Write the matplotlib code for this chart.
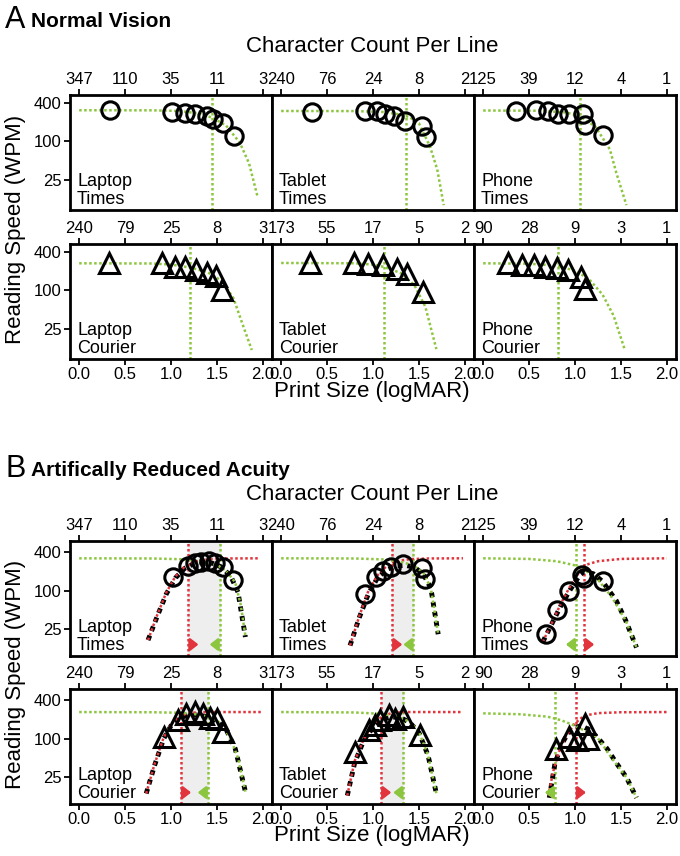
import matplotlib
matplotlib.use("Agg")
import matplotlib.pyplot as plt
from matplotlib.ticker import NullLocator

plt.rcParams['font.family'] = ['Liberation Sans', 'DejaVu Sans']

# panel layout keys
devices = ["Laptop", "Tablet", "Phone"]
fonts = ["Times", "Courier"]
logmar_ticks = [0.0, 0.5, 1.0, 1.5, 2.0]
logmar_labels = ["0.0", "0.5", "1.0", "1.5", "2.0"]
speed_ticks = [25, 100, 400]
speed_labels = ["25", "100", "400"]

# character count per line at logMAR 0.0 .. 2.0
char_labels = {
    "Laptop Times": ["347", "110", "35", "11", "3"],
    "Tablet Times": ["240", "76", "24", "8", "2"],
    "Phone Times": ["125", "39", "12", "4", "1"],
    "Laptop Courier": ["240", "79", "25", "8", "3"],
    "Tablet Courier": ["173", "55", "17", "5", "2"],
    "Phone Courier": ["90", "28", "9", "3", "1"],
}

# ---- A: normal vision ----
normal_x = {
    "Laptop Times": [0.34, 1.01, 1.15, 1.26, 1.39, 1.46, 1.57, 1.69],
    "Tablet Times": [0.34, 0.91, 1.04, 1.13, 1.23, 1.35, 1.53, 1.58],
    "Phone Times": [0.36, 0.58, 0.71, 0.81, 0.93, 1.09, 1.11, 1.31],
    "Laptop Courier": [0.32, 0.90, 1.04, 1.15, 1.27, 1.39, 1.49, 1.56],
    "Tablet Courier": [0.31, 0.79, 0.95, 1.11, 1.26, 1.37, 1.54],
    "Phone Courier": [0.27, 0.42, 0.55, 0.67, 0.80, 0.92, 1.07, 1.11],
}
normal_y = {
    "Laptop Times": [303, 286, 276, 260, 244, 222, 193, 119],
    "Tablet Times": [282, 292, 292, 269, 250, 204, 175, 116],
    "Phone Times": [300, 311, 292, 260, 266, 260, 181, 126],
    "Laptop Courier": [263, 263, 233, 233, 207, 184, 163, 101],
    "Tablet Courier": [269, 265, 254, 242, 210, 176, 92],
    "Phone Courier": [260, 250, 242, 233, 222, 205, 160, 105],
}
normal_fit_x = {
    "Laptop Times": [0.0, 0.8, 1.1, 1.3, 1.45, 1.6, 1.75, 1.85, 1.94],
    "Tablet Times": [0.0, 0.8, 1.1, 1.3, 1.4, 1.5, 1.62, 1.70, 1.77],
    "Phone Times": [0.0, 0.6, 0.9, 1.05, 1.22, 1.38, 1.45, 1.56],
    "Laptop Courier": [0.0, 0.8, 1.0, 1.21, 1.4, 1.55, 1.68, 1.77, 1.88],
    "Tablet Courier": [0.0, 0.8, 1.0, 1.12, 1.3, 1.45, 1.57, 1.69],
    "Phone Courier": [0.0, 0.5, 0.81, 1.0, 1.15, 1.3, 1.42, 1.54],
}
normal_fit_y = {
    "Laptop Times": [303, 302, 295, 270, 232, 175, 94, 45, 14],
    "Tablet Times": [295, 294, 285, 260, 235, 190, 83, 36, 10],
    "Phone Times": [300, 298, 280, 245, 170, 74, 32, 10],
    "Laptop Courier": [262, 260, 250, 225, 190, 140, 75, 32, 11.6],
    "Tablet Courier": [265, 262, 250, 230, 185, 120, 55, 12],
    "Phone Courier": [262, 258, 240, 200, 150, 85, 40, 12],
}
normal_cps = {
    "Laptop Times": 1.45, "Tablet Times": 1.36, "Phone Times": 1.05,
    "Laptop Courier": 1.21, "Tablet Courier": 1.12, "Phone Courier": 0.81,
}

# ---- B: artificially reduced acuity ----
reduced_x = {
    "Laptop Times": [1.02, 1.19, 1.26, 1.33, 1.41, 1.48, 1.57, 1.68],
    "Tablet Times": [0.91, 1.03, 1.11, 1.20, 1.33, 1.53, 1.57],
    "Phone Times": [0.68, 0.80, 0.93, 1.08, 1.10, 1.31],
    "Laptop Courier": [0.92, 1.08, 1.16, 1.26, 1.35, 1.42, 1.50, 1.57],
    "Tablet Courier": [0.80, 0.96, 1.02, 1.08, 1.17, 1.24, 1.33, 1.51],
    "Phone Courier": [0.79, 0.93, 1.02, 1.11, 1.14],
}
reduced_y = {
    "Laptop Times": [164, 244, 269, 282, 289, 276, 236, 148],
    "Tablet Times": [88, 167, 204, 239, 260, 231, 155],
    "Phone Times": [21.5, 51, 99, 175, 157, 142],
    "Laptop Courier": [107, 195, 242, 262, 248, 215, 207, 128],
    "Tablet Courier": [62, 136, 163, 195, 233, 207, 219, 114],
    "Phone Courier": [70, 107, 95, 173, 101],
}
acuity_fit_x = {
    "Laptop Times": [0.75, 0.85, 0.95, 1.05, 1.15, 1.25, 1.4, 1.6, 1.97],
    "Tablet Times": [0.75, 0.85, 0.95, 1.05, 1.15, 1.25, 1.4, 1.6, 1.98],
    "Phone Times": [0.65, 0.75, 0.85, 0.95, 1.05, 1.12, 1.25, 1.5, 2.0],
    "Laptop Courier": [0.73, 0.82, 0.92, 1.0, 1.1, 1.2, 1.4, 1.99],
    "Tablet Courier": [0.72, 0.8, 0.9, 1.0, 1.1, 1.2, 1.35, 1.97],
    "Phone Courier": [0.71, 0.76, 0.82, 0.9, 1.0, 1.1, 1.25, 1.5, 2.0],
}
acuity_fit_y = {
    "Laptop Times": [17, 42, 95, 170, 240, 285, 310, 320, 322],
    "Tablet Times": [14, 40, 100, 175, 245, 290, 312, 320, 322],
    "Phone Times": [16, 32, 65, 120, 200, 255, 290, 315, 322],
    "Laptop Courier": [14, 40, 105, 170, 230, 255, 262, 262],
    "Tablet Courier": [13, 45, 100, 165, 225, 252, 262, 262],
    "Phone Courier": [13, 30, 60, 110, 175, 230, 252, 260, 262],
}
count_fit_x = {
    "Laptop Times": [0.0, 0.8, 1.1, 1.3, 1.5, 1.6, 1.7, 1.76, 1.81],
    "Tablet Times": [0.0, 0.8, 1.1, 1.3, 1.44, 1.55, 1.63, 1.71],
    "Phone Times": [0.0, 0.5, 0.8, 1.0, 1.1, 1.25, 1.4, 1.55, 1.67],
    "Laptop Courier": [0.0, 0.8, 1.1, 1.3, 1.45, 1.55, 1.65, 1.73, 1.81],
    "Tablet Courier": [0.0, 0.8, 1.1, 1.25, 1.4, 1.5, 1.6, 1.69],
    "Phone Courier": [0.0, 0.4, 0.7, 0.85, 1.0, 1.1, 1.24, 1.42, 1.56, 1.67],
}
count_fit_y = {
    "Laptop Times": [322, 320, 312, 295, 255, 205, 135, 60, 20],
    "Tablet Times": [322, 320, 310, 285, 250, 190, 110, 21],
    "Phone Times": [322, 315, 290, 250, 215, 150, 80, 35, 13],
    "Laptop Courier": [262, 260, 255, 240, 215, 170, 100, 50, 15],
    "Tablet Courier": [262, 258, 245, 225, 185, 130, 55, 14],
    "Phone Courier": [250, 242, 222, 195, 160, 135, 107, 46, 25, 12],
}
combined_fit_x = {
    "Laptop Times": [0.75, 0.85, 0.95, 1.05, 1.15, 1.25, 1.35, 1.45, 1.55, 1.65, 1.73, 1.81],
    "Tablet Times": [0.75, 0.85, 0.95, 1.05, 1.15, 1.25, 1.35, 1.45, 1.55, 1.63, 1.71],
    "Phone Times": [0.65, 0.75, 0.85, 0.95, 1.05, 1.1, 1.2, 1.3, 1.45, 1.55, 1.67],
    "Laptop Courier": [0.73, 0.82, 0.92, 1.0, 1.1, 1.2, 1.3, 1.4, 1.5, 1.6, 1.7, 1.81],
    "Tablet Courier": [0.72, 0.8, 0.9, 1.0, 1.1, 1.2, 1.3, 1.4, 1.5, 1.6, 1.69],
    "Phone Courier": [0.72, 0.78, 0.85, 0.92, 1.0, 1.07, 1.15, 1.24, 1.35, 1.45, 1.56, 1.67],
}
combined_fit_y = {
    "Laptop Times": [17, 40, 90, 160, 225, 265, 280, 270, 235, 170, 95, 19],
    "Tablet Times": [14, 38, 90, 160, 215, 245, 250, 235, 180, 110, 21],
    "Phone Times": [16, 31, 60, 105, 175, 200, 185, 140, 70, 35, 13],
    "Laptop Courier": [14, 38, 100, 160, 215, 235, 235, 220, 190, 140, 70, 15],
    "Tablet Courier": [13, 42, 95, 150, 200, 220, 215, 180, 125, 55, 14],
    "Phone Courier": [12, 40, 80, 120, 150, 160, 140, 107, 70, 42, 25, 12],
}
acuity_cps = {
    "Laptop Times": 1.19, "Tablet Times": 1.21, "Phone Times": 1.10,
    "Laptop Courier": 1.11, "Tablet Courier": 1.09, "Phone Courier": 1.01,
}
count_cps = {
    "Laptop Times": 1.53, "Tablet Times": 1.44, "Phone Times": 1.01,
    "Laptop Courier": 1.40, "Tablet Courier": 1.33, "Phone Courier": 0.78,
}

GREEN = "#8cc63f"
RED = "#e2343c"
W, H = 680, 856
col_left = [70, 272, 474]
col_w = 202
row_h = 115

fig = plt.figure(figsize=(W / 100, H / 100), dpi=100)


def px_axes(left, top, width, height):
    return fig.add_axes([left / W, 1 - (top + height) / H, width / W, height / H])


def setup_panel(ax, key, col, show_bottom, ylim):
    ax.set_yscale('log')
    ax.set_xlim(-0.1, 2.1)
    ax.set_ylim(*ylim)
    ax.set_yticks(speed_ticks)
    ax.yaxis.set_minor_locator(NullLocator())
    ax.set_xticks(logmar_ticks)
    ax.tick_params(length=4, width=1.3, labelsize=12, pad=2, color='black')
    if col == 0:
        ax.set_yticklabels(speed_labels)
    else:
        ax.tick_params(left=False, labelleft=False)
    if show_bottom:
        ax.set_xticklabels(logmar_labels)
    else:
        ax.tick_params(bottom=False, labelbottom=False)
    top = ax.secondary_xaxis('top')
    top.set_xticks(logmar_ticks, labels=char_labels[key])
    top.tick_params(length=4, width=1.3, labelsize=12, pad=2)
    top.spines['top'].set_visible(False)
    for s in ax.spines.values():
        s.set_linewidth(2.0)
    ax.text(0.035, 0.02, key.replace(" ", "\n"), transform=ax.transAxes,
            ha='left', va='bottom', fontsize=13, linespacing=1.05)


def draw_markers(ax, xs, ys, font):
    if font == "Times":
        ax.plot(xs, ys, 'o', ms=12.5, mfc='none', mec='black', mew=2.2, zorder=5)
    else:
        ax.plot(xs, ys, '^', ms=15, mfc='none', mec='black', mew=2.2, zorder=5)


dot_fine = (0, (1, 1))

# ---- Section A ----
a_tops = {"Times": 95, "Courier": 244}
a_ylim = (8.4, 524)
for f in fonts:
    for c, d in enumerate(devices):
        key = f"{d} {f}"
        ax = px_axes(col_left[c], a_tops[f], col_w, row_h)
        setup_panel(ax, key, c, f == "Courier", a_ylim)
        ax.axvline(normal_cps[key], color=GREEN, lw=1.8, ls=dot_fine, zorder=2)
        ax.plot(normal_fit_x[key], normal_fit_y[key], color=GREEN, lw=1.8, ls=dot_fine, zorder=3)
        draw_markers(ax, normal_x[key], normal_y[key], f)

# ---- Section B ----
b_tops = {"Times": 541, "Courier": 689}
b_ylim = (9.6, 600)
for f in fonts:
    for c, d in enumerate(devices):
        key = f"{d} {f}"
        ax = px_axes(col_left[c], b_tops[f], col_w, row_h)
        setup_panel(ax, key, c, f == "Courier", b_ylim)
        ra, ca = acuity_cps[key], count_cps[key]
        if ra < ca:
            ax.axvspan(ra, ca, color='#eeeeee', zorder=0)
        ax.axvline(ra, color=RED, lw=1.8, ls=dot_fine, zorder=2)
        ax.axvline(ca, color=GREEN, lw=1.8, ls=dot_fine, zorder=2)
        ax.plot(combined_fit_x[key], combined_fit_y[key], color='black', lw=3.5,
                ls=dot_fine, zorder=2.5)
        ax.plot(acuity_fit_x[key], acuity_fit_y[key], color=RED, lw=1.8, ls=dot_fine, zorder=3)
        ax.plot(count_fit_x[key], count_fit_y[key], color=GREEN, lw=1.8, ls=dot_fine, zorder=3)
        tr = ax.get_xaxis_transform()
        ax.annotate('', xy=(ra + 0.14, 0.1), xytext=(ra + 0.01, 0.1), xycoords=tr,
                    arrowprops=dict(arrowstyle='-|>,head_width=0.35,head_length=0.45',
                                    color=RED, lw=2.2))
        ax.annotate('', xy=(ca - 0.14, 0.1), xytext=(ca - 0.01, 0.1), xycoords=tr,
                    arrowprops=dict(arrowstyle='-|>,head_width=0.35,head_length=0.45',
                                    color=GREEN, lw=2.2))
        draw_markers(ax, reduced_x[key], reduced_y[key], f)

# titles and shared axis labels
fig.text(5 / W, 1 - 28 / H, "A", fontsize=22, ha='left', va='baseline')
fig.text(31 / W, 1 - 27 / H, "Normal Vision", fontsize=15, fontweight='bold',
         ha='left', va='baseline')
fig.text(5 / W, 1 - 477 / H, "B", fontsize=22, ha='left', va='baseline')
fig.text(31 / W, 1 - 476 / H, "Artifically Reduced Acuity", fontsize=15,
         fontweight='bold', ha='left', va='baseline')

for yc in (47, 495):
    fig.text(372 / W, 1 - yc / H, "Character Count Per Line", fontsize=16,
             ha='center', va='center')
for yc in (392, 836):
    fig.text(372 / W, 1 - yc / H, "Print Size (logMAR)", fontsize=16,
             ha='center', va='center')
for yc in (229, 674):
    fig.text(16 / W, 1 - yc / H, "Reading Speed (WPM)", fontsize=16,
             rotation=90, ha='center', va='center')

fig.savefig("out.png", dpi=100)
